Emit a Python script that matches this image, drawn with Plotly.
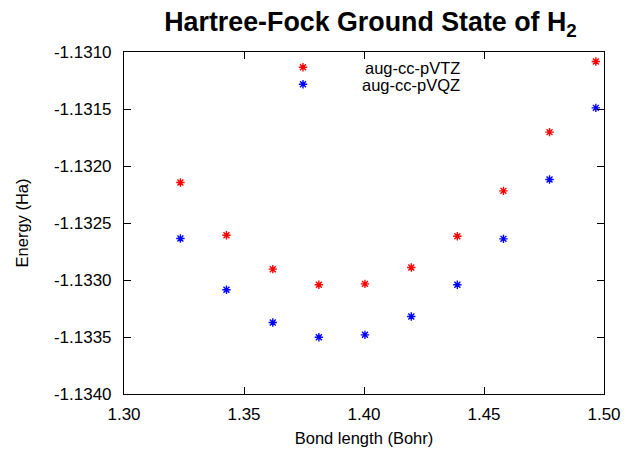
import plotly.graph_objects as go

bond_length = [1.3235, 1.3427, 1.3620, 1.3812, 1.4004, 1.4197, 1.4389, 1.4581, 1.4773, 1.4966]
e_avtz = [-1.132145, -1.132607, -1.132905, -1.133042, -1.133034, -1.132890, -1.132616, -1.132218, -1.131703, -1.131083]
e_avqz = [-1.132636, -1.133086, -1.133373, -1.133502, -1.133481, -1.133320, -1.133042, -1.132639, -1.132118, -1.131490]

x_ticks = [1.30, 1.35, 1.40, 1.45, 1.50]
x_ticklabels = ["1.30", "1.35", "1.40", "1.45", "1.50"]
y_ticks = [-1.1340, -1.1335, -1.1330, -1.1325, -1.1320, -1.1315, -1.1310]
y_ticklabels = ["-1.1340", "-1.1335", "-1.1330", "-1.1325", "-1.1320", "-1.1315", "-1.1310"]

FONT = "Liberation Sans, Arial, sans-serif"

fig = go.Figure()
fig.add_trace(go.Scatter(x=bond_length, y=e_avtz, mode="markers", name="aug-cc-pVTZ",
                         legend="legend",
                         marker=dict(symbol="asterisk-open", size=7, color="#ff0000",
                                     line=dict(color="#ff0000", width=1.4))))
fig.add_trace(go.Scatter(x=bond_length, y=e_avqz, mode="markers", name="aug-cc-pVQZ",
                         legend="legend2",
                         marker=dict(symbol="asterisk-open", size=7, color="#0000ff",
                                     line=dict(color="#0000ff", width=1.4))))

axis_common = dict(showline=True, mirror="ticks", linecolor="black", linewidth=1,
                   ticks="inside", ticklen=7, tickcolor="black", showgrid=False,
                   zeroline=False, automargin=False,
                   tickfont=dict(family=FONT, size=17, color="black"))

fig.update_xaxes(range=[1.30, 1.50], tickvals=x_ticks, ticktext=x_ticklabels,
                 title=dict(text="Bond length (Bohr)", font=dict(family=FONT, size=16.5, color="black"), standoff=9),
                 ticklabelstandoff=5, **axis_common)
fig.update_yaxes(range=[-1.1340, -1.1310], tickvals=y_ticks, ticktext=y_ticklabels,
                 title=dict(text="Energy (Ha)", font=dict(family=FONT, size=16.5, color="black"), standoff=21),
                 ticklabelstandoff=8, **axis_common)

legend_common = dict(xanchor="left", yanchor="middle", bgcolor="rgba(0,0,0,0)",
                     font=dict(family=FONT, size=16.5, color="black"), tracegroupgap=0)

fig.update_layout(
    width=632, height=452,
    margin=dict(l=124, r=28, t=52, b=58),
    paper_bgcolor="white", plot_bgcolor="white",
    title=dict(text="<b>Hartree-Fock Ground State of H<sub>2</sub></b>",
               x=0.5135, xref="paper", xanchor="center", y=0.952, yanchor="middle",
               font=dict(family=FONT, size=26.8, color="black")),
    legend=dict(x=0.24375, y=0.9547, itemwidth=114, **legend_common),
    legend2=dict(x=0.25, y=0.905, itemwidth=108, **legend_common),
    showlegend=True,
)

fig.write_html("out.html")
